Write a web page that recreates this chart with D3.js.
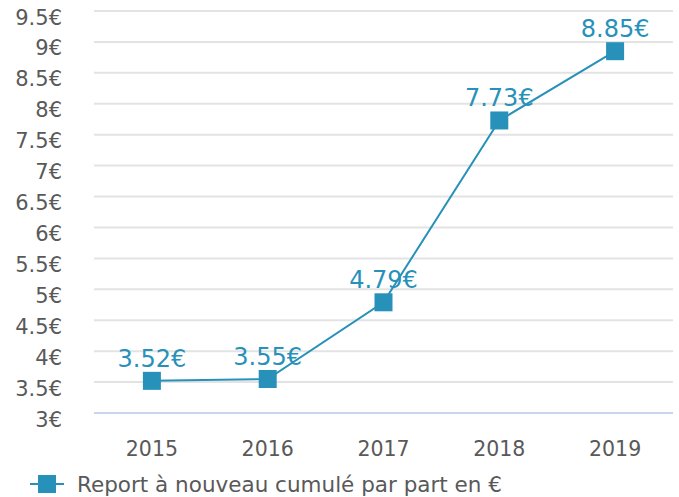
<!DOCTYPE html>
<html>
<head>
<meta charset="utf-8">
<script src="https://cdn.jsdelivr.net/npm/d3@7"></script>
<style>
  body { margin: 0; background: #fff; }
  svg { font-family: "DejaVu Sans", sans-serif; }
</style>
</head>
<body>
<div id="chart"></div>
<script>
const years = ["2015", "2016", "2017", "2018", "2019"];
const values = [3.52, 3.55, 4.79, 7.73, 8.85];
const yTicks = [3, 3.5, 4, 4.5, 5, 5.5, 6, 6.5, 7, 7.5, 8, 8.5, 9, 9.5];
const seriesName = "Report à nouveau cumulé par part en €";

const width = 679;
const height = 497;
const color = "#2891b9";

const svg = d3.select("#chart")
    .append("svg")
    .attr("width", width)
    .attr("height", height);

const xScale = d3.scaleBand()
    .domain(years)
    .range([94, 673]);

const yScale = d3.scaleLinear()
    .domain([3, 9.5])
    .range([413, 11]);

const fmt = v => String(v).replace(/\.0$/, "") + "€";

// grid
svg.append("g")
    .selectAll("line")
    .data(yTicks)
    .enter()
    .append("line")
    .attr("x1", 94)
    .attr("x2", 673)
    .attr("y1", d => yScale(d))
    .attr("y2", d => yScale(d))
    .attr("stroke", d => d === 3 ? "#c9d5ea" : "#e3e3e3")
    .attr("stroke-width", 2);

// y axis
const yAxisGroup = svg.append("g")
    .attr("transform", "translate(62, 0)")
    .call(d3.axisLeft(yScale).tickValues(yTicks).tickSize(0).tickPadding(0).tickFormat(fmt));
yAxisGroup.select(".domain").remove();
yAxisGroup.selectAll("text")
    .attr("fill", "#595959")
    .attr("font-size", "21px")
    .attr("font-family", "DejaVu Sans")
    .attr("dy", "13px");

// x axis
const xAxisGroup = svg.append("g")
    .attr("transform", "translate(0, 413)")
    .call(d3.axisBottom(xScale).tickSize(0).tickPadding(0));
xAxisGroup.select(".domain").remove();
xAxisGroup.selectAll("text")
    .attr("fill", "#595959")
    .attr("font-size", "20.5px")
    .attr("font-family", "DejaVu Sans")
    .attr("dy", "43px");

const cx = d => xScale(d) + xScale.bandwidth() / 2;
const data = years.map((y, i) => ({ year: y, value: values[i] }));

const line = d3.line()
    .x(d => cx(d.year))
    .y(d => yScale(d.value));

svg.append("path")
    .datum(data)
    .attr("d", line)
    .attr("fill", "none")
    .attr("stroke", color)
    .attr("stroke-width", 2);

svg.selectAll(".marker")
    .data(data)
    .enter()
    .append("rect")
    .attr("class", "marker")
    .attr("x", d => cx(d.year) - 9)
    .attr("y", d => yScale(d.value) - 9)
    .attr("width", 18)
    .attr("height", 18)
    .attr("fill", color);

svg.selectAll(".label")
    .data(data)
    .enter()
    .append("text")
    .attr("class", "label")
    .attr("x", d => cx(d.year))
    .attr("y", d => yScale(d.value) - 14)
    .attr("text-anchor", "middle")
    .attr("fill", color)
    .attr("font-size", "24px")
    .text(d => d.value.toFixed(2) + "€");

// legend
const legend = svg.append("g").attr("transform", "translate(30, 484)");
legend.append("line")
    .attr("x1", 0).attr("x2", 34)
    .attr("y1", 0).attr("y2", 0)
    .attr("stroke", color)
    .attr("stroke-width", 2);
legend.append("rect")
    .attr("x", 8).attr("y", -9)
    .attr("width", 18).attr("height", 18)
    .attr("fill", color);
legend.append("text")
    .attr("x", 47)
    .attr("y", 0)
    .attr("dy", "0.35em")
    .attr("fill", "#595959")
    .attr("font-size", "21.5px")
    .text(seriesName);
</script>
</body>
</html>
